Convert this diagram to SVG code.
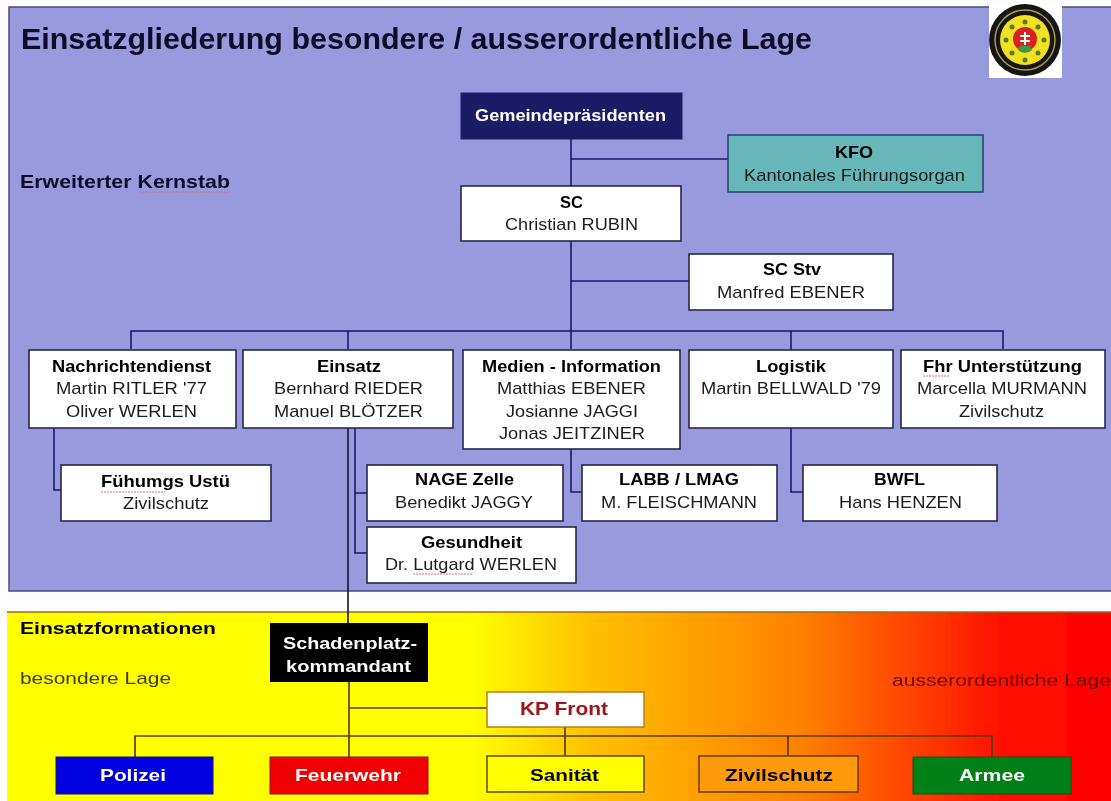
<svg xmlns="http://www.w3.org/2000/svg" width="1111" height="801" viewBox="0 0 1111 801">
<style>
text{font-family:"Liberation Sans",Arial,sans-serif;font-size:17px;fill:#1c1c1c;transform:translateY(1px)}
.b{font-weight:bold;fill:#000}
.w{font-weight:bold;fill:#fff}
.n{fill:#fff;stroke:#26264f;stroke-width:1.6}
.c{fill:none;stroke:#1a1a6a;stroke-width:1.6}
.k{fill:none;stroke:#14142e;stroke-width:1.6}
.y{fill:none;stroke:#5a3c00;stroke-width:1.7}
.sq{fill:none;stroke:#d07070;stroke-width:1;stroke-dasharray:2 1}
</style>
<defs>
<filter id="soft" x="0" y="0" width="100%" height="100%"><feGaussianBlur stdDeviation="0.5"/></filter>
<linearGradient id="heat" gradientUnits="userSpaceOnUse" x1="7" y1="0" x2="1111" y2="0">
<stop offset="0" stop-color="#ffff00"/><stop offset="0.42" stop-color="#ffff00"/><stop offset="0.53" stop-color="#ffc000"/><stop offset="0.72" stop-color="#ff8000"/><stop offset="0.9" stop-color="#ff1000"/><stop offset="1" stop-color="#ff0000"/>
</linearGradient>
</defs>
<g filter="url(#soft)">
<rect width="1111" height="801" fill="#fdfdfd"/>
<g id="panels">
<rect x="9" y="7" width="1103" height="584" fill="#9999dd" stroke="#4a4a80" stroke-width="1.5"/>
<rect x="7" y="612" width="1104" height="189" fill="url(#heat)"/>
<path d="M7 612H1111" stroke="#a06a10" stroke-width="1.5"/>
</g>
<g id="connectors">
<path class="c" d="M571 139V349M571 159H728M571 281H689M131 349V331H1003V349M348 331V350M791 331V350"/>
<path class="c" d="M54 428V490H61M355 428V553H367M355 493H367M571 449V492H582M791 428V492H803"/>
<path class="k" d="M348 428V623"/>
<path class="y" d="M349 682V757M349 708H487M135 757V736H992V757M565 727V756M788 736V756"/>
</g>
<g id="title"><text class="b" x="21" y="48" style="font-size:30px;fill:#0c0c2a" textLength="791" lengthAdjust="spacingAndGlyphs">Einsatzgliederung besondere / ausserordentliche Lage</text></g>
<g id="logo">
<rect x="989" y="3" width="73" height="75" fill="#fff"/>
<circle cx="1025" cy="40" r="36" fill="#141414"/>
<circle cx="1025" cy="40" r="30" fill="none" stroke="#a89a50" stroke-width="1.500"/>
<circle cx="1025" cy="40" r="25" fill="#f2e020"/>
<g fill="#5a7a20"><circle cx="1025" cy="22" r="2.500"/><circle cx="1025" cy="60" r="2.500"/><circle cx="1006" cy="40" r="2.500"/><circle cx="1044" cy="40" r="2.500"/><circle cx="1012" cy="27" r="2.500"/><circle cx="1038" cy="27" r="2.500"/><circle cx="1012" cy="53" r="2.500"/><circle cx="1038" cy="53" r="2.500"/></g>
<circle cx="1025" cy="39" r="12" fill="#d82020"/>
<path d="M1018 50Q1025 56 1032 50L1030 46H1020Z" fill="#3c9a3c"/>
<path d="M1025 32V45M1020 36H1030M1020 41H1030" stroke="#fff" stroke-width="2"/>
</g>
<g id="label-kernstab"><text class="b" x="20" y="187" style="font-size:18.5px;fill:#0c0c2a" textLength="210" lengthAdjust="spacingAndGlyphs">Erweiterter Kernstab</text></g>
<g id="gemeinde"><rect x="461" y="93" width="221" height="46" fill="#1d1d66" stroke="#1d1d66"/><text class="w" x="475" y="120" textLength="191" lengthAdjust="spacingAndGlyphs">Gemeindepräsidenten</text></g>
<g id="kfo"><rect x="728" y="135" width="255" height="57" fill="#66b8b8" stroke="#24406a" stroke-width="1.500"/><text class="b" x="835" y="157" textLength="38" lengthAdjust="spacingAndGlyphs">KFO</text><text x="744" y="180" textLength="221" lengthAdjust="spacingAndGlyphs">Kantonales Führungsorgan</text></g>
<g id="sc"><rect class="n" x="461" y="186" width="220" height="55"/><text class="b" x="560" y="207" textLength="23" lengthAdjust="spacingAndGlyphs">SC</text><text x="505" y="229" textLength="133" lengthAdjust="spacingAndGlyphs">Christian RUBIN</text></g>
<g id="sc-stv"><rect class="n" x="689" y="254" width="204" height="56"/><text class="b" x="763" y="274" textLength="58" lengthAdjust="spacingAndGlyphs">SC Stv</text><text x="717" y="297" textLength="148" lengthAdjust="spacingAndGlyphs">Manfred EBENER</text></g>
<g id="nachrichtendienst"><rect class="n" x="29" y="350" width="207" height="78"/><text class="b" x="52" y="371" textLength="159" lengthAdjust="spacingAndGlyphs">Nachrichtendienst</text><text x="56" y="393" textLength="151" lengthAdjust="spacingAndGlyphs">Martin RITLER '77</text><text x="66" y="416" textLength="131" lengthAdjust="spacingAndGlyphs">Oliver WERLEN</text></g>
<g id="einsatz"><rect class="n" x="243" y="350" width="210" height="78"/><text class="b" x="317" y="371" textLength="64" lengthAdjust="spacingAndGlyphs">Einsatz</text><text x="274" y="393" textLength="149" lengthAdjust="spacingAndGlyphs">Bernhard RIEDER</text><text x="274" y="416" textLength="149" lengthAdjust="spacingAndGlyphs">Manuel BLÖTZER</text></g>
<g id="medien"><rect class="n" x="463" y="350" width="217" height="99"/><text class="b" x="482" y="371" textLength="179" lengthAdjust="spacingAndGlyphs">Medien - Information</text><text x="497" y="393" textLength="149" lengthAdjust="spacingAndGlyphs">Matthias EBENER</text><text x="506" y="416" textLength="132" lengthAdjust="spacingAndGlyphs">Josianne JAGGI</text><text x="499" y="438" textLength="146" lengthAdjust="spacingAndGlyphs">Jonas JEITZINER</text></g>
<g id="logistik"><rect class="n" x="689" y="350" width="204" height="78"/><text class="b" x="756" y="371" textLength="70" lengthAdjust="spacingAndGlyphs">Logistik</text><text x="701" y="393" textLength="180" lengthAdjust="spacingAndGlyphs">Martin BELLWALD '79</text></g>
<g id="fhr"><rect class="n" x="901" y="350" width="204" height="78"/><text class="b" x="923" y="371" textLength="159" lengthAdjust="spacingAndGlyphs">Fhr Unterstützung</text><text x="917" y="393" textLength="170" lengthAdjust="spacingAndGlyphs">Marcella MURMANN</text><text x="959" y="416" textLength="85" lengthAdjust="spacingAndGlyphs">Zivilschutz</text></g>
<g id="fuehrungs"><rect class="n" x="61" y="465" width="210" height="56"/><text class="b" x="101" y="486" textLength="129" lengthAdjust="spacingAndGlyphs">Fühumgs Ustü</text><text x="123" y="508" textLength="86" lengthAdjust="spacingAndGlyphs">Zivilschutz</text></g>
<g id="nage"><rect class="n" x="367" y="465" width="196" height="56"/><text class="b" x="415" y="484" textLength="99" lengthAdjust="spacingAndGlyphs">NAGE Zelle</text><text x="395" y="507" textLength="138" lengthAdjust="spacingAndGlyphs">Benedikt JAGGY</text></g>
<g id="labb"><rect class="n" x="582" y="465" width="195" height="56"/><text class="b" x="619" y="484" textLength="120" lengthAdjust="spacingAndGlyphs">LABB / LMAG</text><text x="601" y="507" textLength="156" lengthAdjust="spacingAndGlyphs">M. FLEISCHMANN</text></g>
<g id="bwfl"><rect class="n" x="803" y="465" width="194" height="56"/><text class="b" x="874" y="484" textLength="51" lengthAdjust="spacingAndGlyphs">BWFL</text><text x="839" y="507" textLength="123" lengthAdjust="spacingAndGlyphs">Hans HENZEN</text></g>
<g id="gesundheit"><rect class="n" x="367" y="527" width="209" height="56"/><text class="b" x="421" y="547" textLength="101" lengthAdjust="spacingAndGlyphs">Gesundheit</text><text x="385" y="569" textLength="172" lengthAdjust="spacingAndGlyphs">Dr. Lutgard WERLEN</text></g>
<g id="spelling-marks"><path class="sq" d="M140 192H230M101 492H165M413 574H472M923 376H950"/></g>
<g id="label-formationen"><text class="b" x="20" y="633" textLength="196" lengthAdjust="spacingAndGlyphs">Einsatzformationen</text><text x="20" y="683" style="fill:#3c3c00" textLength="151" lengthAdjust="spacingAndGlyphs">besondere Lage</text></g>
<g id="label-ausserordentlich"><text x="892" y="685" style="fill:#6a0808" textLength="219" lengthAdjust="spacingAndGlyphs">ausserordentliche Lage</text></g>
<g id="schadenplatz"><rect x="270" y="623" width="158" height="59" fill="#000"/><text class="w" x="283" y="648" textLength="134" lengthAdjust="spacingAndGlyphs">Schadenplatz-</text><text class="w" x="286" y="671" textLength="125" lengthAdjust="spacingAndGlyphs">kommandant</text></g>
<g id="kp-front"><rect x="487" y="692" width="157" height="35" fill="#fff" stroke="#b08020" stroke-width="1.500"/><text class="b" x="520" y="714" style="font-size:19px;fill:#a01818" textLength="88" lengthAdjust="spacingAndGlyphs">KP Front</text></g>
<g id="polizei"><rect x="56" y="757" width="157" height="37" fill="#0000e0" stroke="#101070"/><text class="w" x="100" y="780" textLength="66" lengthAdjust="spacingAndGlyphs">Polizei</text></g>
<g id="feuerwehr"><rect x="270" y="757" width="158" height="37" fill="#f00000" stroke="#801010"/><text class="w" x="295" y="780" textLength="106" lengthAdjust="spacingAndGlyphs">Feuerwehr</text></g>
<g id="sanitaet"><rect x="487" y="756" width="157" height="36" fill="#ffff00" stroke="#5a4a00" stroke-width="1.500"/><text class="b" x="530" y="780" textLength="69" lengthAdjust="spacingAndGlyphs">Sanität</text></g>
<g id="zivilschutz"><rect x="699" y="756" width="159" height="36" fill="#ff9a10" stroke="#6a3a00" stroke-width="1.500"/><text class="b" x="725" y="780" textLength="108" lengthAdjust="spacingAndGlyphs">Zivilschutz</text></g>
<g id="armee"><rect x="913" y="757" width="158" height="37" fill="#008018" stroke="#105010"/><text class="w" x="959" y="780" textLength="66" lengthAdjust="spacingAndGlyphs">Armee</text></g>
</g>
</svg>
